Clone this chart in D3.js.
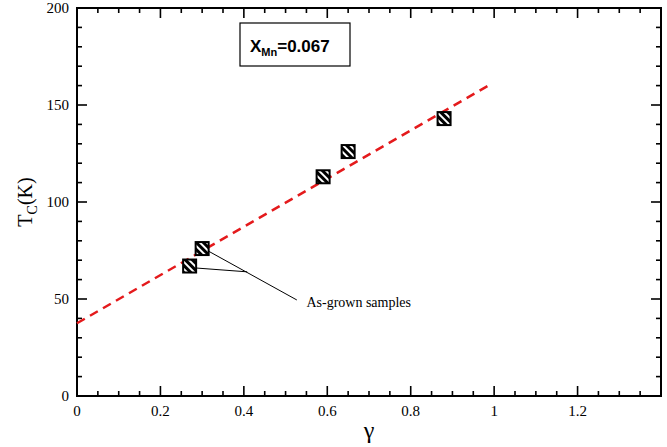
<!DOCTYPE html>
<html>
<head>
<meta charset="utf-8">
<script src="https://cdn.jsdelivr.net/npm/d3@7"></script>
<style>
  body { margin: 0; background: #fff; }
  text { font-family: "Liberation Serif", "Times New Roman", serif; }
</style>
</head>
<body>
<div id="chart"></div>
<script>
// data
var gamma = [0.27, 0.30, 0.59, 0.65, 0.88];
var tc = [67, 76, 113, 126, 143];
var fitX = [0, 0.99];
var fitY = [37.5, 160.5];
var xTicks = [0, 0.2, 0.4, 0.6, 0.8, 1, 1.2];
var yTicks = [0, 50, 100, 150, 200];
var noteText = "As-grown samples";
var notePos = [0.55, 46];
var noteLines = [[[0.315, 74.7], [0.527, 49.5]], [[0.284, 66], [0.408, 64]]];

var W = 667, H = 447;
var margin = {top: 8, right: 6, bottom: 51, left: 77},
    width = W - margin.left - margin.right,
    height = H - margin.top - margin.bottom;

var svg = d3.select("#chart")
  .append("svg")
    .attr("width", W)
    .attr("height", H);

var defs = svg.append("defs");
var pat = defs.append("pattern")
    .attr("id", "hatch")
    .attr("patternUnits", "userSpaceOnUse")
    .attr("width", 5).attr("height", 5)
    .attr("patternTransform", "rotate(-45)");
pat.append("rect").attr("width", 5).attr("height", 5).attr("fill", "#000");
pat.append("rect").attr("x", 0).attr("width", 2).attr("height", 5).attr("fill", "#fff");

var g = svg.append("g")
    .attr("transform", "translate(" + margin.left + "," + margin.top + ")");

var x = d3.scaleLinear().domain([0, 1.4]).range([0, width]);
var y = d3.scaleLinear().domain([0, 200]).range([height, 0]);

// minor ticks
var xMinor = d3.range(0, 1.4001, 0.05);
var yMinor = d3.range(0, 200.001, 10);

function tickLines(sel, vals, fn) {
  sel.selectAll("line").data(vals).enter().append("line")
    .each(fn)
    .attr("stroke", "#000").attr("stroke-width", 1.6);
}

var ticksG = g.append("g");
// bottom & top
tickLines(ticksG.append("g"), xMinor, function(d) {
  var major = Math.abs(d / 0.2 - Math.round(d / 0.2)) < 1e-6;
  var len = major ? 10 : 5;
  d3.select(this).attr("x1", x(d)).attr("x2", x(d)).attr("y1", height).attr("y2", height - len);
});
tickLines(ticksG.append("g"), xMinor, function(d) {
  var major = Math.abs(d / 0.2 - Math.round(d / 0.2)) < 1e-6;
  var len = major ? 10 : 5;
  d3.select(this).attr("x1", x(d)).attr("x2", x(d)).attr("y1", 0).attr("y2", len);
});
// left & right
tickLines(ticksG.append("g"), yMinor, function(d) {
  var len = d % 50 === 0 ? 10 : 5;
  d3.select(this).attr("y1", y(d)).attr("y2", y(d)).attr("x1", 0).attr("x2", len);
});
tickLines(ticksG.append("g"), yMinor, function(d) {
  var len = d % 50 === 0 ? 10 : 5;
  d3.select(this).attr("y1", y(d)).attr("y2", y(d)).attr("x1", width).attr("x2", width - len);
});

// tick labels
g.append("g").selectAll("text").data(xTicks).enter().append("text")
    .attr("x", function(d) { return x(d); })
    .attr("y", height + 20)
    .attr("text-anchor", "middle")
    .style("font-size", "15px")
    .text(function(d) { return d; });

g.append("g").selectAll("text").data(yTicks).enter().append("text")
    .attr("x", -8)
    .attr("y", function(d) { return y(d) + 5; })
    .attr("text-anchor", "end")
    .style("font-size", "15px")
    .text(function(d) { return d; });

// frame
g.append("rect")
    .attr("width", width).attr("height", height)
    .attr("fill", "none").attr("stroke", "#000").attr("stroke-width", 2);

// axis titles
g.append("text")
    .attr("x", x(0.7))
    .attr("y", height + 42)
    .attr("text-anchor", "middle")
    .style("font-size", "24px")
    .text("γ");

var yl = g.append("text")
    .attr("transform", "translate(" + (-45) + "," + (height / 2) + ") rotate(-90)")
    .attr("text-anchor", "middle")
    .style("font-size", "20px");
yl.append("tspan").text("T");
yl.append("tspan").attr("dy", 5).style("font-size", "14px").text("C");
yl.append("tspan").attr("dy", -5).text("(K)");

// fit line
g.append("line")
    .attr("x1", x(fitX[0])).attr("y1", y(fitY[0]))
    .attr("x2", x(fitX[1])).attr("y2", y(fitY[1]))
    .attr("stroke", "#e41a1c").attr("stroke-width", 2.5)
    .attr("stroke-dasharray", "9,6");

// annotation lines
g.append("g").selectAll("line").data(noteLines).enter().append("line")
    .attr("x1", function(d) { return x(d[0][0]); })
    .attr("y1", function(d) { return y(d[0][1]); })
    .attr("x2", function(d) { return x(d[1][0]); })
    .attr("y2", function(d) { return y(d[1][1]); })
    .attr("stroke", "#000").attr("stroke-width", 1);

g.append("text")
    .attr("x", x(notePos[0])).attr("y", y(notePos[1]))
    .style("font-size", "14px")
    .text(noteText);

// markers
var s = 13;
g.append("g").selectAll("rect").data(gamma).enter().append("rect")
    .attr("x", function(d) { return x(d) - s / 2; })
    .attr("y", function(d, i) { return y(tc[i]) - s / 2; })
    .attr("width", s).attr("height", s)
    .attr("fill", "url(#hatch)")
    .attr("stroke", "#000").attr("stroke-width", 2);

// legend box
var lg = svg.append("g").attr("transform", "translate(240,23)");
lg.append("rect")
    .attr("width", 110).attr("height", 43)
    .attr("fill", "#fff").attr("stroke", "#000").attr("stroke-width", 1.2);
var lt = lg.append("text")
    .attr("x", 10).attr("y", 29)
    .style("font-family", "'Liberation Sans', Arial, sans-serif")
    .style("font-weight", "bold")
    .style("font-size", "17px");
lt.append("tspan").text("X");
lt.append("tspan").attr("dy", 4).style("font-size", "11px").text("Mn");
lt.append("tspan").attr("dy", -4).text("=0.067");
</script>
</body>
</html>
